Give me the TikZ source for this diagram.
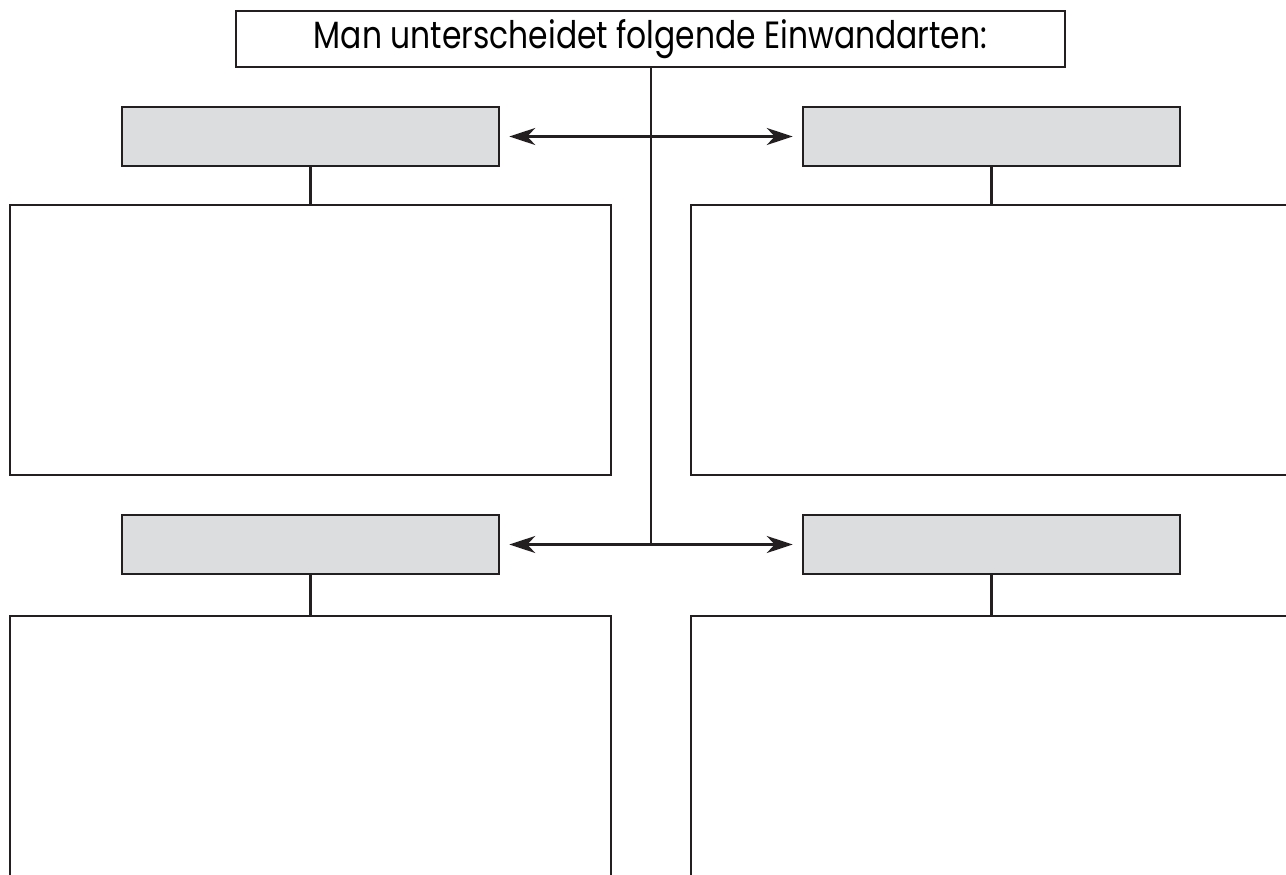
\documentclass[tikz,border=0pt]{standalone}
\usepackage{fontspec}
\setmainfont{Poppins}
\usetikzlibrary{arrows.meta}
\definecolor{boxgray}{HTML}{DCDDDF}
\definecolor{ink}{HTML}{231F20}
\tikzset{
  line/.style={draw=ink, line width=2.5pt},
  titlebox/.style={line, fill=white, minimum width=829pt, minimum height=56pt, inner sep=0pt},
  graybox/.style={line, fill=boxgray, minimum width=377pt, minimum height=59pt, inner sep=0pt},
  bigbox/.style={line, fill=white, minimum width=601pt, minimum height=270pt, inner sep=0pt},
  link/.style={draw=ink, line width=2.5pt},
  dblarrow/.style={draw=ink, line width=2.5pt, {Stealth[length=26pt,width=17pt,inset=8pt]}-{Stealth[length=26pt,width=17pt,inset=8pt]}, shorten <=9pt, shorten >=9pt}
}
\begin{document}
\begin{tikzpicture}[x=1pt,y=-1pt]
\useasboundingbox (0,0) rectangle (1286,875);
\clip (0,0) rectangle (1286,875);
\node[titlebox] (title) at (650.5,39) {\raisebox{-2.5pt}{\resizebox{673pt}{29pt}{Man unterscheidet folgende Einwandarten:}}};
\node[graybox] (gul) at (310.5,136.5) {};
\node[graybox] (gur) at (991.5,136.5) {};
\node[graybox] (gll) at (310.5,544.5) {};
\node[graybox] (glr) at (991.5,544.5) {};
\node[bigbox] (bul) at (310.5,340) {};
\node[bigbox] (bur) at (991.5,340) {};
\node[bigbox] (bll) at (310.5,751) {};
\node[bigbox] (blr) at (991.5,751) {};
\coordinate (hub) at (651,544.5);
\draw[link] (title.south -| hub) -- (hub);
\draw[dblarrow] (gul.east) -- (gur.west);
\draw[dblarrow] (gll.east) -- (glr.west);
\draw[link] (gul.south) -- (bul.north);
\draw[link] (gur.south) -- (bur.north);
\draw[link] (gll.south) -- (bll.north);
\draw[link] (glr.south) -- (blr.north);
\end{tikzpicture}
\end{document}
